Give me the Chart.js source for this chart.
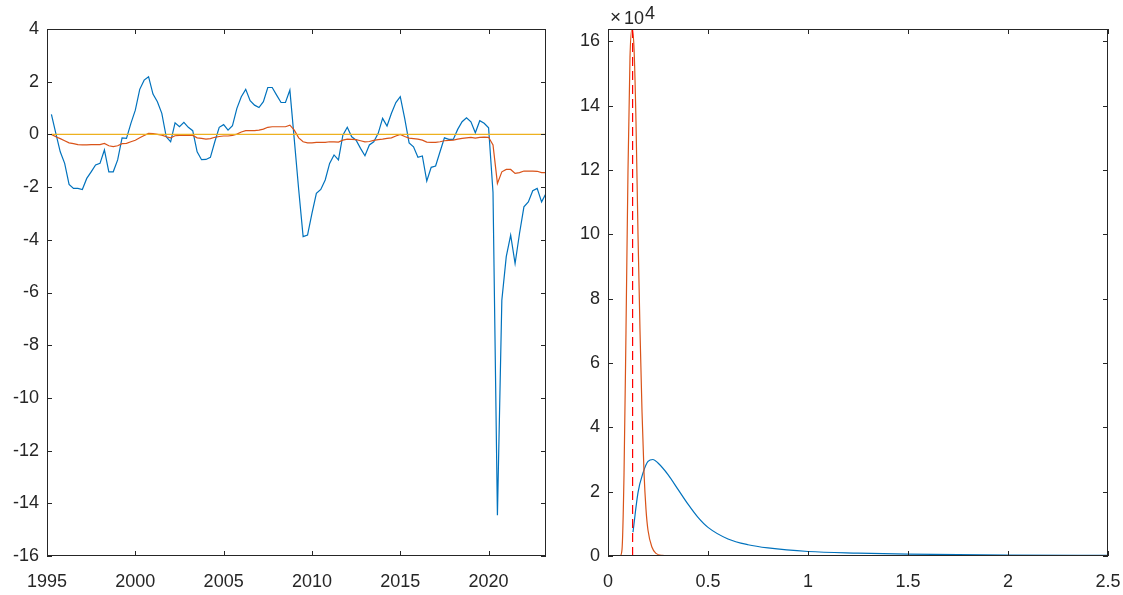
<!DOCTYPE html>
<html>
<head>
<meta charset="utf-8">
<script src="https://cdn.jsdelivr.net/npm/chart.js@4.4.1/dist/chart.umd.min.js"></script>
<style>
  html, body { margin: 0; padding: 0; background: #fff; }
  #wrap { position: relative; width: 1123px; height: 595px; }
  canvas { position: absolute; top: 0; }
</style>
</head>
<body>
<div id="wrap">
  <canvas id="left" width="561" height="595" style="left:0"></canvas>
  <canvas id="right" width="562" height="595" style="left:561px"></canvas>
</div>
<script>
// ---- left panel: quarterly series, 1995Q2 .. 2023Q2 ----
const firstQuarter = 1995.25;
const quarterCount = 113;

const seriesBlue = [
  0.76, 0.04, -0.66, -1.10, -1.90, -2.05, -2.05, -2.09, -1.67, -1.42,
  -1.16, -1.10, -0.59, -1.42, -1.42, -0.97, -0.13, -0.15, 0.42, 0.92,
  1.71, 2.06, 2.19, 1.53, 1.24, 0.80, -0.09, -0.28, 0.44, 0.29,
  0.46, 0.27, 0.14, -0.66, -0.96, -0.95, -0.87, -0.28, 0.27, 0.37,
  0.16, 0.33, 0.99, 1.43, 1.71, 1.28, 1.11, 1.02, 1.24, 1.78,
  1.78, 1.49, 1.21, 1.21, 1.68, -0.20, -2.10, -3.88, -3.82, -3.00,
  -2.24, -2.09, -1.73, -1.10, -0.78, -0.97, -0.03, 0.27, -0.09, -0.22,
  -0.53, -0.81, -0.40, -0.28, 0.04, 0.61, 0.32, 0.80, 1.21, 1.43,
  0.61, -0.32, -0.47, -0.87, -0.82, -1.77, -1.25, -1.20, -0.66, -0.13,
  -0.19, -0.19, 0.19, 0.48, 0.63, 0.48, 0.06, 0.52, 0.42, 0.25,
  -2.20, -14.45, -6.29, -4.64, -3.82, -4.90, -3.76, -2.75, -2.56, -2.14,
  -2.05, -2.56, -2.24
];

const seriesOrange = [
  0.00, -0.09, -0.16, -0.24, -0.32, -0.35, -0.39, -0.40, -0.40, -0.39,
  -0.39, -0.39, -0.34, -0.43, -0.46, -0.43, -0.35, -0.34, -0.28, -0.22,
  -0.13, -0.04, 0.04, 0.03, 0.00, -0.03, -0.09, -0.13, -0.05, -0.04,
  -0.04, -0.03, -0.04, -0.13, -0.15, -0.18, -0.16, -0.11, -0.08, -0.06,
  -0.06, -0.04, 0.01, 0.09, 0.14, 0.14, 0.14, 0.16, 0.20, 0.27,
  0.29, 0.29, 0.29, 0.29, 0.35, 0.16, -0.13, -0.28, -0.32, -0.32,
  -0.30, -0.30, -0.30, -0.28, -0.28, -0.29, -0.22, -0.18, -0.19, -0.20,
  -0.24, -0.28, -0.27, -0.23, -0.20, -0.18, -0.15, -0.13, -0.06, 0.00,
  -0.08, -0.14, -0.16, -0.18, -0.22, -0.29, -0.30, -0.30, -0.28, -0.24,
  -0.23, -0.22, -0.18, -0.15, -0.13, -0.11, -0.14, -0.11, -0.10, -0.11,
  -0.40, -1.86, -1.42, -1.33, -1.33, -1.48, -1.45, -1.39, -1.39, -1.39,
  -1.40, -1.45, -1.45
];

const zeroLineX = [1995.25, 2023.25];
const zeroLineY = [0, 0];

const leftXTicks = [1995, 2000, 2005, 2010, 2015, 2020];
const leftYTicks = [-16, -14, -12, -10, -8, -6, -4, -2, 0, 2, 4];

// ---- right panel: densities ----
const blueDensX = [0.125, 0.15, 0.175, 0.2, 0.225, 0.25, 0.3, 0.35, 0.4, 0.45,
                   0.5, 0.6, 0.7, 0.8, 1.0, 1.25, 1.5, 2.0, 2.5];
const blueDensY = [7400, 19700, 25800, 29400, 30000, 28900, 25300, 20700, 16100, 12000,
                   8900, 5300, 3500, 2500, 1400, 900, 600, 300, 200];

const redDensX = [0, 0.06, 0.07, 0.08, 0.09, 0.1, 0.11, 0.12, 0.13, 0.14,
                  0.15, 0.16, 0.17, 0.18, 0.19, 0.2, 0.22, 0.24, 0.27, 0.36];
const redDensY = [0, 0, 2000, 25000, 70000, 120000, 155000, 163800, 158000, 135000,
                  100000, 70000, 45000, 26000, 14500, 8000, 2700, 800, 200, 0];

const markerX = [0.123, 0.123];
const markerY = [0, 163800];

const rightXTicks = [0, 0.5, 1, 1.5, 2, 2.5];
const rightYTicks = [0, 20000, 40000, 60000, 80000, 100000, 120000, 140000, 160000];

// ---- styling ----
const AXIS = '#262626';
const TICK_LEN = 5;
const FONT = "'Liberation Sans', Arial, sans-serif";
Chart.defaults.font.family = FONT;
Chart.defaults.font.size = 18;
Chart.defaults.color = AXIS;

function pts(xs, ys) {
  return xs.map((x, i) => ({ x: x, y: ys[i] }));
}

const quarters = [];
for (let i = 0; i < quarterCount; i++) quarters.push(firstQuarter + i * 0.25);

// frame with inward ticks on all four sides, plus optional exponent label
const boxPlugin = {
  id: 'matlabBox',
  afterDraw(chart, args, opts) {
    const ctx = chart.ctx;
    const a = chart.chartArea;
    const sx = chart.scales.x, sy = chart.scales.y;
    ctx.save();
    ctx.strokeStyle = AXIS;
    ctx.lineWidth = 1;
    ctx.beginPath();
    sx.ticks.forEach(t => {
      const p = Math.round(sx.getPixelForValue(t.value)) + 0.5;
      ctx.moveTo(p, a.bottom); ctx.lineTo(p, a.bottom - TICK_LEN);
      ctx.moveTo(p, a.top); ctx.lineTo(p, a.top + TICK_LEN);
    });
    sy.ticks.forEach(t => {
      const p = Math.round(sy.getPixelForValue(t.value)) + 0.5;
      ctx.moveTo(a.left, p); ctx.lineTo(a.left + TICK_LEN, p);
      ctx.moveTo(a.right, p); ctx.lineTo(a.right - TICK_LEN, p);
    });
    ctx.stroke();
    ctx.strokeRect(Math.round(a.left) + 0.5, Math.round(a.top) + 0.5,
                   Math.round(a.right - a.left) - 1, Math.round(a.bottom - a.top) - 1);
    if (opts && opts.exponent) {
      ctx.fillStyle = AXIS;
      ctx.textBaseline = 'alphabetic';
      ctx.textAlign = 'left';
      ctx.font = '19px ' + FONT;
      ctx.fillText('\u00d7', a.left + 2, 23);
      ctx.font = '18px ' + FONT;
      ctx.fillText('10', a.left + 16, 24);
      ctx.fillText(opts.exponent, a.left + 37, 19);
    }
    ctx.restore();
  }
};

function axis(min, max, tickValues, fmt, isX, size) {
  return {
    type: 'linear',
    min: min,
    max: max,
    grid: { display: false, drawTicks: false },
    border: { display: false },
    afterFit: function(scale) {
      if (isX) scale.height = size; else scale.width = size;
      scale.paddingLeft = 0; scale.paddingRight = 0;
      scale.paddingTop = 0; scale.paddingBottom = 0;
    },
    afterBuildTicks: function(scale) {
      scale.ticks = tickValues.map(v => ({ value: v }));
    },
    ticks: {
      autoSkip: false,
      maxRotation: 0,
      padding: isX ? 15 : 8,
      callback: fmt
    }
  };
}

function line(data, color, order, extra) {
  return Object.assign({
    data: data,
    borderColor: color,
    backgroundColor: color,
    borderWidth: 1.2,
    pointRadius: 0,
    fill: false,
    tension: 0,
    order: order
  }, extra || {});
}

const commonOpts = {
  responsive: false,
  animation: false,
  devicePixelRatio: 1,
  plugins: { legend: { display: false }, tooltip: { enabled: false } }
};

new Chart(document.getElementById('left'), {
  type: 'line',
  data: {
    datasets: [
      line(pts(quarters, seriesBlue), '#0072BD', 3),
      line(pts(quarters, seriesOrange), '#D95319', 2),
      line(pts(zeroLineX, zeroLineY), '#EDB120', 1)
    ]
  },
  options: Object.assign({}, commonOpts, {
    layout: { padding: { left: 0, top: 29, right: 15, bottom: 0 } },
    scales: {
      x: axis(1995, 2023.25, leftXTicks, v => String(v), true, 39),
      y: axis(-16, 4, leftYTicks, v => String(v), false, 47)
    }
  }),
  plugins: [boxPlugin]
});

new Chart(document.getElementById('right'), {
  type: 'line',
  data: {
    datasets: [
      line(pts(blueDensX, blueDensY), '#0072BD', 3, { cubicInterpolationMode: 'monotone' }),
      line(pts(redDensX, redDensY), '#D95319', 2, { cubicInterpolationMode: 'monotone' }),
      line(pts(markerX, markerY), '#FF0000', 1, { borderDash: [9, 5] })
    ]
  },
  options: Object.assign({}, commonOpts, {
    layout: { padding: { left: 0, top: 29, right: 15, bottom: 0 } },
    scales: {
      x: axis(0, 2.5, rightXTicks, v => String(v), true, 39),
      y: axis(0, 163800, rightYTicks, v => String(v / 10000), false, 47)
    },
    plugins: Object.assign({}, commonOpts.plugins, { matlabBox: { exponent: '4' } })
  }),
  plugins: [boxPlugin]
});
</script>
</body>
</html>
